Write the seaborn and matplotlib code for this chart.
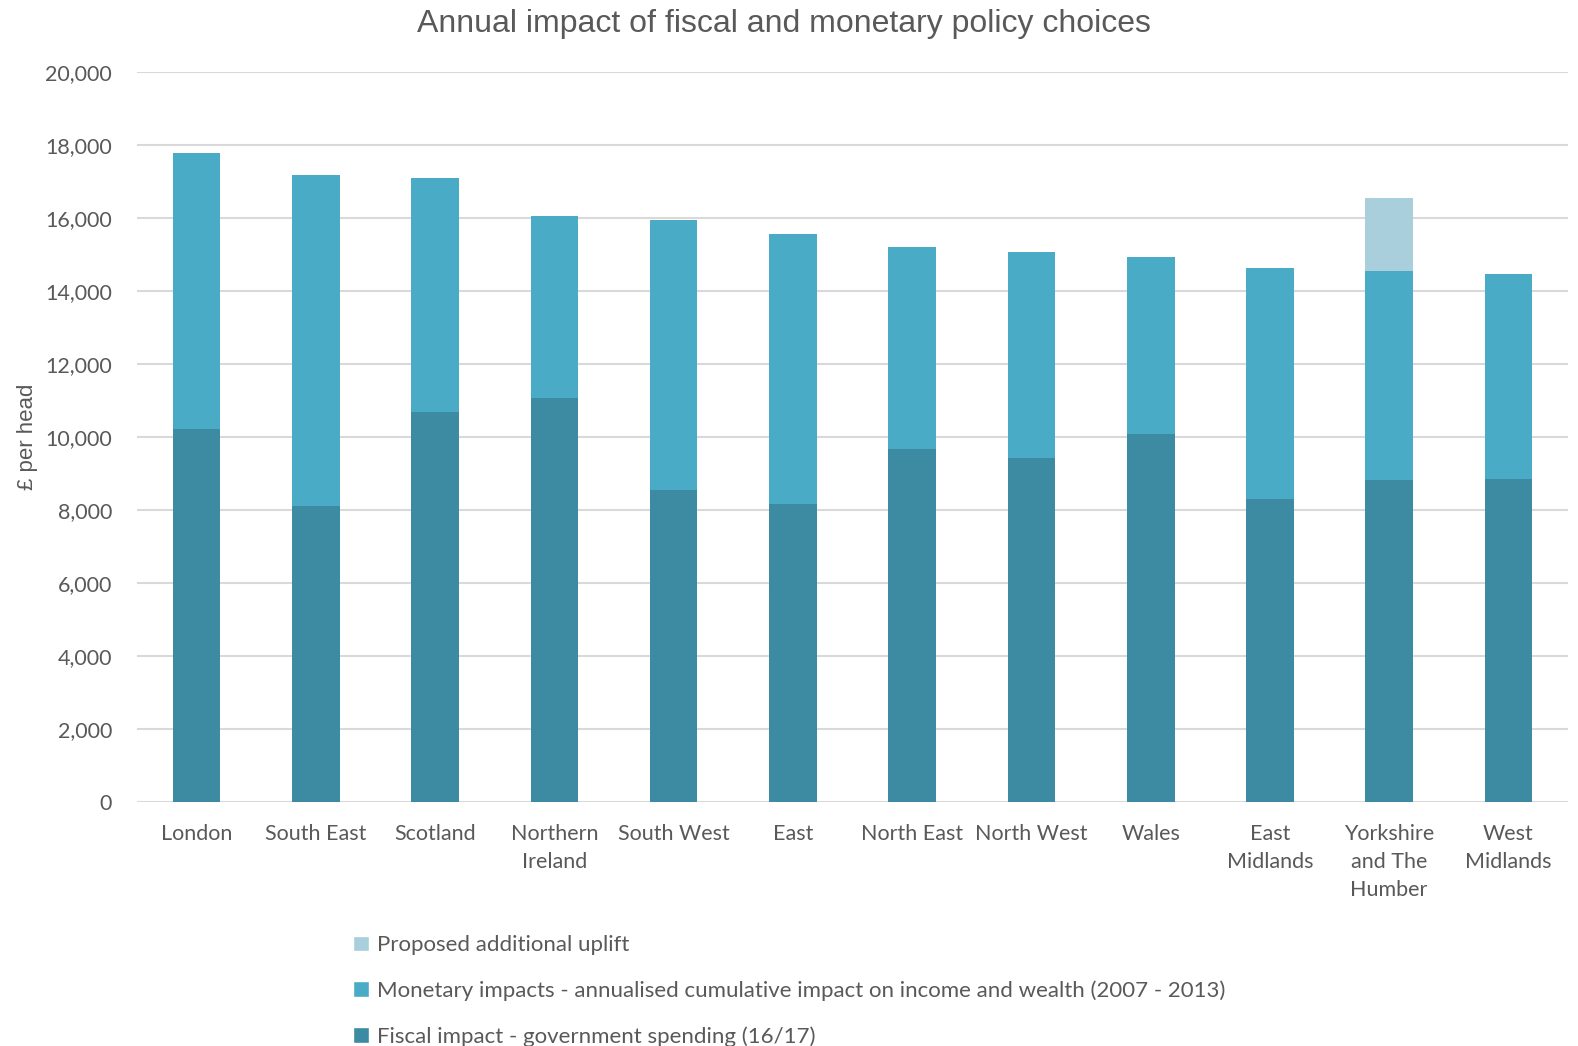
import matplotlib
matplotlib.use("Agg")
import matplotlib.pyplot as plt
import seaborn as sns
import numpy as np
import pandas as pd
from matplotlib.patches import Patch

categories = ["London", "South East", "Scotland", "Northern\nIreland", "South West", "East",
              "North East", "North West", "Wales", "East\nMidlands", "Yorkshire\nand The\nHumber",
              "West\nMidlands"]
fiscal = [10200, 8100, 10670, 11050, 8530, 8150, 9650, 9410, 10070, 8300, 8820, 8840]
monetary = [7580, 9060, 6420, 4990, 7410, 7410, 5550, 5660, 4850, 6330, 5730, 5630]
uplift = [0, 0, 0, 0, 0, 0, 0, 0, 0, 0, 2000, 0]
y_ticks = [0, 2000, 4000, 6000, 8000, 10000, 12000, 14000, 16000, 18000, 20000]

labels = ["Proposed additional uplift",
          "Monetary impacts - annualised cumulative impact on income and wealth (2007 - 2013)",
          "Fiscal impact - government spending (16/17)"]
c_fiscal = "#3C8BA2"
c_monetary = "#4AABC6"
c_uplift = "#A9CEDC"
text_c = "#595959"

sns.set_theme(style="white")
plt.rcParams['font.family'] = ['Lato', 'DejaVu Sans']

df = pd.DataFrame({"region": categories, "fiscal": fiscal, "monetary": monetary, "uplift": uplift})
df["lvl2"] = df["fiscal"] + df["monetary"]
df["lvl3"] = df["lvl2"] + df["uplift"]

fig = plt.figure(figsize=(15.78, 10.46), dpi=100)
ax = fig.add_axes([0.0868, 0.2335, 0.9069, 0.698])

for col, colr in [("lvl3", c_uplift), ("lvl2", c_monetary), ("fiscal", c_fiscal)]:
    sns.barplot(data=df, x="region", y=col, color=colr, width=0.4, ax=ax,
                saturation=1, errorbar=None, zorder=3, linewidth=0)

ax.set_ylim(0, 20000)
ax.set_xlim(-0.5, len(categories) - 0.5)
ax.set_yticks(y_ticks)
ax.set_yticklabels([f"{v:,}" for v in y_ticks], fontsize=15.5, color=text_c)
ax.set_xticks(range(len(categories)))
ax.set_xticklabels(categories, fontsize=15.5, color=text_c, linespacing=1.5, va="top")
ax.tick_params(axis="both", length=0)
ax.tick_params(axis="x", pad=16)
ax.tick_params(axis="y", pad=18)
ax.grid(axis="y", color="#D9D9D9", linewidth=1.5, zorder=0)
ax.set_axisbelow(True)
for s in ax.spines.values():
    s.set_visible(False)
ax.set_xlabel("")
ax.set_ylabel("£ per head", fontsize=16, color=text_c, family=["Liberation Sans", "DejaVu Sans"])
ax.yaxis.set_label_coords(-0.069, 0.5)

fig.text(0.497, 0.977, "Annual impact of fiscal and monetary policy choices", ha="center", va="center",
         fontsize=23, color=text_c, family=["Liberation Sans", "DejaVu Sans"])

handles = [Patch(facecolor=c_uplift), Patch(facecolor=c_monetary), Patch(facecolor=c_fiscal)]
leg = fig.legend(handles, labels, loc="upper left", bbox_to_anchor=(0.224, 0.106),
                 frameon=False, fontsize=16, labelspacing=1.14, handlelength=0.7,
                 handleheight=0.7, handletextpad=0.35, borderpad=0, borderaxespad=0)
for t in leg.get_texts():
    t.set_color(text_c)

fig.savefig("out.png", dpi=100, facecolor="white")
